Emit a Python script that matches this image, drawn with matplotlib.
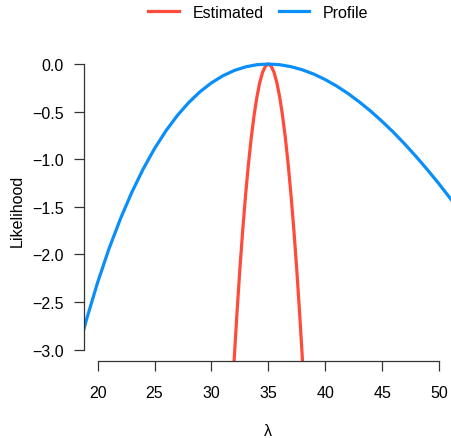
import matplotlib
matplotlib.use('Agg')
import numpy as np
import matplotlib.pyplot as plt

plt.rcParams['font.family'] = ['Liberation Sans', 'DejaVu Sans']
plt.rcParams['axes.unicode_minus'] = True

# profile likelihood
lam_profile = [18, 19, 20, 21, 22, 23, 24, 25, 26, 27, 28, 29, 30, 31, 32, 33, 34, 35,
               36, 37, 38, 39, 40, 41, 42, 43, 44, 45, 46, 47, 48, 49, 50, 51, 52]
lik_profile = [-3.137, -2.691, -2.293, -1.939, -1.626, -1.348, -1.103, -0.888, -0.702,
               -0.541, -0.405, -0.291, -0.198, -0.124, -0.068, -0.030, -0.007, 0.0,
               -0.007, -0.028, -0.061, -0.106, -0.163, -0.231, -0.309, -0.398, -0.495,
               -0.602, -0.717, -0.841, -0.973, -1.112, -1.258, -1.412, -1.572]

# estimated (quadratic) likelihood
lam_est = [32.0, 32.25, 32.5, 32.75, 33.0, 33.25, 33.5, 33.75, 34.0, 34.25, 34.5, 34.75, 35.0,
           35.25, 35.5, 35.75, 36.0, 36.25, 36.5, 36.75, 37.0, 37.25, 37.5, 37.75, 38.0, 38.25]
lik_est = [-3.105, -2.609, -2.156, -1.747, -1.380, -1.057, -0.776, -0.539, -0.345, -0.194,
           -0.086, -0.022, 0.0, -0.022, -0.086, -0.194, -0.345, -0.539, -0.776, -1.057,
           -1.380, -1.747, -2.156, -2.609, -3.105, -3.623]

x_ticks = [20, 25, 30, 35, 40, 45, 50]
y_ticks = [0.0, -0.5, -1.0, -1.5, -2.0, -2.5, -3.0]

red = '#FF4B3C'
blue = '#0A8EFA'

W, H = 451, 439
fig = plt.figure(figsize=(W / 100, H / 100), dpi=100)
ax = fig.add_axes([84 / W, (H - 362.1) / H, 368.6 / W, 308.5 / H])

l1, = ax.plot(lam_est, lik_est, color=red, lw=2.3, label='Estimated')
l2, = ax.plot(lam_profile, lik_profile, color=blue, lw=2.3, label='Profile')

ax.set_xlim(18.8, 51.2)
ax.set_ylim(-3.12, 0.12)
ax.set_xticks(x_ticks)
ax.set_yticks(y_ticks)
ax.set_yticklabels([('%.1f' % v).replace('-', '\u2212') for v in y_ticks])

for s in ['top', 'right']:
    ax.spines[s].set_visible(False)
ax.spines['left'].set_bounds(-3, 0)
ax.spines['bottom'].set_bounds(20, 50)
for s in ['left', 'bottom']:
    ax.spines[s].set_color('#333333')
    ax.spines[s].set_linewidth(0.9)
ax.tick_params(axis='both', length=7.2, width=0.9, color='#333333', labelsize=11.5)
ax.tick_params(axis='x', pad=10)
ax.tick_params(axis='y', pad=7.5)

ax.set_xlabel('λ', fontsize=11.5)
ax.set_ylabel('Likelihood', fontsize=11.5)
ax.xaxis.set_label_coords(0.5, -0.2)
ax.yaxis.set_label_coords(-0.162, 0.49)

fig.legend(handles=[l1, l2], loc='center', bbox_to_anchor=(258.5 / W, 1 - 13.5 / H),
           ncol=2, frameon=False, fontsize=11.5, handlelength=1.9,
           handletextpad=0.9, columnspacing=0.9, borderpad=0)

plt.savefig('out.png', dpi=100)
